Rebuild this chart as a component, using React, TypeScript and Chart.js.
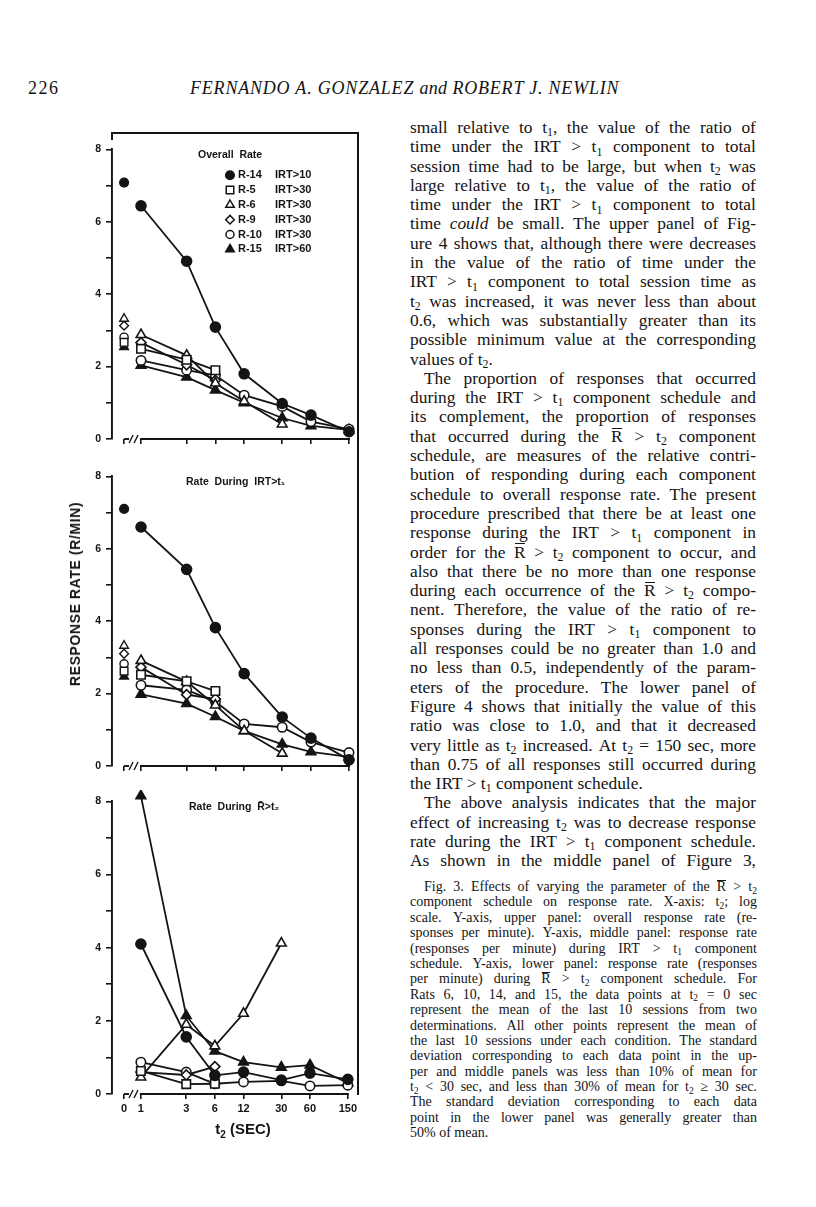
import React, { useEffect, useRef } from "react";
import { Chart, registerables } from "chart.js";

Chart.register(...registerables);

// ---------------- data ----------------
const T_VALUES = [1, 3, 6, 12, 30, 60, 150];
const X_TICK_LABELS = ["0", "1", "3", "6", "12", "30", "60", "150"];
const X_ZERO_POS = 0.665; // where t2 = 0 sits on the broken log axis
const X_MIN = 0.497;
const X_MAX = 150;
const Y_TICKS = [0, 1, 2, 3, 4, 5, 6, 7, 8];

const RATS = ["R-14", "R-5", "R-6", "R-9", "R-10", "R-15"];
const RAT_IRT = ["IRT>10", "IRT>30", "IRT>30", "IRT>30", "IRT>30", "IRT>60"];

// upper panel: overall rate (values for successive t2 = 1,3,6,12,30,60,150)
const OVERALL_R14 = [6.44, 4.91, 3.09, 1.8, 0.98, 0.66, 0.2];
const OVERALL_R5 = [2.49, 2.19, 1.9];
const OVERALL_R6 = [2.88, 2.31, 1.54, 1.04, 0.41];
const OVERALL_R9 = [2.66, 2.05, 1.62];
const OVERALL_R10 = [2.17, 1.9, 1.76, 1.21, 0.9, 0.48, 0.27];
const OVERALL_R15 = [2.03, 1.71, 1.35, 1.0, 0.58, 0.36, 0.25];
const OVERALL_T0 = [7.08, 2.67, 3.32, 3.13, 2.81, 2.54];

// middle panel: rate during IRT > t1
const IRT_R14 = [6.6, 5.43, 3.82, 2.55, 1.35, 0.77, 0.17];
const IRT_R5 = [2.52, 2.34, 2.07];
const IRT_R6 = [2.91, 2.33, 1.68, 0.97, 0.35];
const IRT_R9 = [2.73, 1.97, 1.85];
const IRT_R10 = [2.23, 2.1, 1.78, 1.16, 1.07, 0.66, 0.37];
const IRT_R15 = [1.98, 1.72, 1.36, 0.97, 0.6, 0.39, 0.25];
const IRT_T0 = [7.1, 2.62, 3.32, 3.1, 2.82, 2.47];

// lower panel: rate during R-bar > t2
const RBAR_R14 = [4.1, 1.56, 0.51, 0.6, 0.38, 0.57, 0.4];
const RBAR_R5 = [0.63, 0.27, 0.28];
const RBAR_R6 = [0.46, 1.9, 1.31, 2.2, 4.12];
const RBAR_R9 = [0.6, 0.52, 0.75];
const RBAR_R10 = [0.87, 0.6, 0.28, 0.33, 0.36, 0.22, 0.24];
const RBAR_R15 = [8.15, 2.14, 1.17, 0.87, 0.73, 0.79, 0.3];

// ---------------- styles ----------------
const INK = "#141414";
const SANS = '"Liberation Sans", Arial, sans-serif';
const SERIF = '"Liberation Serif", "Times New Roman", serif';

type Mark = "circle" | "rect" | "triangle" | "rectRot";
const RAT_MARK: Mark[] = ["circle", "rect", "triangle", "rectRot", "circle", "triangle"];
const RAT_FILLED = [true, false, false, false, false, true];
const RAT_RADIUS = [5, 6, 5.6, 5, 4.7, 5.6];

function drawMarker(ctx: CanvasRenderingContext2D, m: Mark, x: number, y: number, r: number, filled: boolean) {
  ctx.save();
  ctx.beginPath();
  if (m === "circle") ctx.arc(x, y, r, 0, Math.PI * 2);
  else if (m === "rect") {
    const s = r * Math.SQRT1_2;
    ctx.rect(x - s, y - s, 2 * s, 2 * s);
  } else if (m === "triangle") {
    ctx.moveTo(x, y - r);
    ctx.lineTo(x + r * 0.866, y + r * 0.5);
    ctx.lineTo(x - r * 0.866, y + r * 0.5);
    ctx.closePath();
  } else {
    ctx.moveTo(x, y - r);
    ctx.lineTo(x + r, y);
    ctx.lineTo(x, y + r);
    ctx.lineTo(x - r, y);
    ctx.closePath();
  }
  ctx.fillStyle = filled ? INK : "#fff";
  ctx.fill();
  ctx.lineWidth = 1.5;
  ctx.strokeStyle = INK;
  ctx.stroke();
  ctx.restore();
}

type PanelProps = {
  top: number;
  plotHeight: number;
  series: number[][];
  base: number[] | null;
  title: string;
  titleX: number;
  legend: boolean;
  xLabels: boolean;
};

function Panel({ top, plotHeight, series, base, title, titleX, legend, xLabels }: PanelProps) {
  const ref = useRef<HTMLCanvasElement>(null);
  const xAxisH = xLabels ? 30 : 12;
  const padTop = 10;
  const height = padTop + plotHeight + xAxisH;

  useEffect(() => {
    if (!ref.current) return;
    const datasets: any[] = [];
    series.forEach((vals, i) => {
      datasets.push({
        label: RATS[i],
        data: vals.map((v, j) => ({ x: T_VALUES[j], y: v })),
        showLine: true,
        borderColor: INK,
        borderWidth: 1.8,
        pointStyle: RAT_MARK[i],
        pointRadius: RAT_RADIUS[i],
        pointBackgroundColor: RAT_FILLED[i] ? INK : "#fff",
        pointBorderColor: INK,
        pointBorderWidth: 1.6,
        clip: false,
        tension: 0,
      });
    });
    if (base) {
      base.forEach((v, i) => {
        datasets.push({
          label: RATS[i] + " t2=0",
          data: [{ x: X_ZERO_POS, y: v }],
          showLine: false,
          pointStyle: RAT_MARK[i],
          pointRadius: RAT_RADIUS[i] - 0.6,
          pointBackgroundColor: RAT_FILLED[i] ? INK : "#fff",
          pointBorderColor: INK,
          pointBorderWidth: 1.4,
          clip: false,
        });
      });
    }

    const decor = {
      id: "decor",
      beforeDatasetsDraw(chart: any) {
        const { ctx, chartArea: a, scales } = chart;
        const x = scales.x;
        const y0 = a.bottom;
        const p0 = x.getPixelForValue(X_ZERO_POS);
        const p1 = x.getPixelForValue(1);
        const pe = x.getPixelForValue(X_MAX);
        ctx.save();
        ctx.strokeStyle = INK;
        ctx.lineWidth = 1.9;
        ctx.beginPath();
        ctx.moveTo(p1 - 1, y0);
        ctx.lineTo(pe + 1, y0);
        ctx.stroke();
        ctx.beginPath();
        ctx.moveTo(p0, y0);
        ctx.lineTo(p0 + 5, y0);
        ctx.stroke();
        ctx.lineWidth = 1.4;
        for (const sx of [p0 + 5, p0 + 10]) {
          ctx.beginPath();
          ctx.moveTo(sx, y0 + 4);
          ctx.lineTo(sx + 4, y0 - 4);
          ctx.stroke();
        }
        ctx.restore();
      },
      afterDraw(chart: any) {
        const { ctx, chartArea: a } = chart;
        ctx.save();
        ctx.fillStyle = INK;
        ctx.textBaseline = "middle";
        ctx.textAlign = "left";
        ctx.font = `bold 10.5px ${SANS}`;
        ctx.fillText(title, titleX - 60, a.top + 6);
        if (legend) {
          ctx.font = `bold 11px ${SANS}`;
          for (let i = 0; i < RATS.length; i++) {
            const ly = a.top + 26 + i * 14.8;
            drawMarker(ctx, RAT_MARK[i], a.left + 118, ly, RAT_RADIUS[i] - 0.7, RAT_FILLED[i]);
            ctx.fillText(RATS[i], a.left + 126, ly);
            ctx.fillText(RAT_IRT[i], a.left + 163, ly);
          }
        }
        ctx.restore();
      },
    };

    const chart = new Chart(ref.current, {
      type: "line",
      data: { datasets },
      options: {
        animation: false,
        responsive: false,
        devicePixelRatio: 1,
        layout: { padding: { top: padTop, right: 11, left: 0, bottom: 0 } },
        plugins: { legend: { display: false }, tooltip: { enabled: false } },
        scales: {
          x: {
            type: "logarithmic",
            min: X_MIN,
            max: X_MAX,
            afterBuildTicks: (s: any) => {
              s.ticks = [X_ZERO_POS, ...T_VALUES].map((v) => ({ value: v }));
            },
            afterFit: (s: any) => {
              s.height = xAxisH;
            },
            border: { display: false },
            grid: { drawOnChartArea: false, drawTicks: true, tickLength: 5, color: INK, lineWidth: 1.6 },
            ticks: {
              display: xLabels,
              autoSkip: false,
              maxRotation: 0,
              minRotation: 0,
              padding: 3,
              color: INK,
              font: { family: SANS, size: 11, weight: "bold" },
              callback: (_v: any, i: number) => X_TICK_LABELS[i],
            },
          },
          y: {
            min: 0,
            max: 8,
            afterBuildTicks: (s: any) => {
              s.ticks = Y_TICKS.map((v) => ({ value: v }));
            },
            afterFit: (s: any) => {
              s.width = 52;
            },
            border: { display: true, color: INK, width: 1.9 },
            grid: { drawOnChartArea: false, drawTicks: true, tickLength: 6, color: INK, lineWidth: 1.6 },
            ticks: {
              padding: 5,
              color: INK,
              font: { family: SANS, size: 10.5, weight: "bold" },
              callback: (v: any) => (Number(v) % 2 === 0 ? String(v) : ""),
            },
          },
        },
      } as any,
      plugins: [decor],
    });
    return () => chart.destroy();
  }, []);

  return (
    <canvas
      ref={ref}
      width={300}
      height={height}
      style={{ position: "absolute", left: 60, top: top - padTop, width: 300, height }}
    />
  );
}

// ---------------- text ----------------
// markup: t_1 subscript, R^ = R with bar, *word* italic; [indent, justified]
const BODY: [string, boolean, boolean][] = [
  ["small relative to t_1, the value of the ratio of", false, true],
  ["time under the IRT > t_1 component to total", false, true],
  ["session time had to be large, but when t_2 was", false, true],
  ["large relative to t_1, the value of the ratio of", false, true],
  ["time under the IRT > t_1 component to total", false, true],
  ["time *could* be small. The upper panel of Fig-", false, true],
  ["ure 4 shows that, although there were decreases", false, true],
  ["in the value of the ratio of time under the", false, true],
  ["IRT > t_1 component to total session time as", false, true],
  ["t_2 was increased, it was never less than about", false, true],
  ["0.6, which was substantially greater than its", false, true],
  ["possible minimum value at the corresponding", false, true],
  ["values of t_2.", false, false],
  ["The proportion of responses that occurred", true, true],
  ["during the IRT > t_1 component schedule and", false, true],
  ["its complement, the proportion of responses", false, true],
  ["that occurred during the R^ > t_2 component", false, true],
  ["schedule, are measures of the relative contri-", false, true],
  ["bution of responding during each component", false, true],
  ["schedule to overall response rate. The present", false, true],
  ["procedure prescribed that there be at least one", false, true],
  ["response during the IRT > t_1 component in", false, true],
  ["order for the R^ > t_2 component to occur, and", false, true],
  ["also that there be no more than one response", false, true],
  ["during each occurrence of the R^ > t_2 compo-", false, true],
  ["nent. Therefore, the value of the ratio of re-", false, true],
  ["sponses during the IRT > t_1 component to", false, true],
  ["all responses could be no greater than 1.0 and", false, true],
  ["no less than 0.5, independently of the param-", false, true],
  ["eters of the procedure. The lower panel of", false, true],
  ["Figure 4 shows that initially the value of this", false, true],
  ["ratio was close to 1.0, and that it decreased", false, true],
  ["very little as t_2 increased. At t_2 = 150 sec, more", false, true],
  ["than 0.75 of all responses still occurred during", false, true],
  ["the IRT > t_1 component schedule.", false, false],
  ["The above analysis indicates that the major", true, true],
  ["effect of increasing t_2 was to decrease response", false, true],
  ["rate during the IRT > t_1 component schedule.", false, true],
  ["As shown in the middle panel of Figure 3,", false, true],
];

const CAPTION: [string, boolean, boolean][] = [
  ["Fig. 3. Effects of varying the parameter of the R^ > t_2", true, true],
  ["component schedule on response rate. X-axis: t_2; log", false, true],
  ["scale. Y-axis, upper panel: overall response rate (re-", false, true],
  ["sponses per minute). Y-axis, middle panel: response rate", false, true],
  ["(responses per minute) during IRT > t_1 component", false, true],
  ["schedule. Y-axis, lower panel: response rate (responses", false, true],
  ["per minute) during R^ > t_2 component schedule. For", false, true],
  ["Rats 6, 10, 14, and 15, the data points at t_2 = 0 sec", false, true],
  ["represent the mean of the last 10 sessions from two", false, true],
  ["determinations. All other points represent the mean of", false, true],
  ["the last 10 sessions under each condition. The standard", false, true],
  ["deviation corresponding to each data point in the up-", false, true],
  ["per and middle panels was less than 10% of mean for", false, true],
  ["t_2 < 30 sec, and less than 30% of mean for t_2 ≥ 30 sec.", false, true],
  ["The standard deviation corresponding to each data", false, true],
  ["point in the lower panel was generally greater than", false, true],
  ["50% of mean.", false, false],
];

function renderWord(w: string, k: number) {
  const parts = w.split(/(\*[^*]+\*|R\^|_[12])/).filter((p) => p !== "");
  return (
    <span key={k}>
      {parts.map((p, i) => {
        if (p.startsWith("*") && p.endsWith("*") && p.length > 2) return <i key={i}>{p.slice(1, -1)}</i>;
        if (p === "R^")
          return (
            <span key={i} style={{ position: "relative", display: "inline-block" }}>
              R
              <span
                style={{
                  position: "absolute",
                  left: "0.04em",
                  right: "0.04em",
                  top: "0.05em",
                  height: 0,
                  borderTop: `1px solid ${INK}`,
                }}
              />
            </span>
          );
        if (/^_[12]$/.test(p))
          return (
            <span key={i} style={{ fontSize: "0.68em", position: "relative", top: "0.28em" }}>
              {p.slice(1)}
            </span>
          );
        return <React.Fragment key={i}>{p}</React.Fragment>;
      })}
    </span>
  );
}

function TextBlock({ lines, left, top, width, size, lh }: { lines: [string, boolean, boolean][]; left: number; top: number; width: number; size: number; lh: number }) {
  return (
    <div style={{ position: "absolute", left, top, width, fontFamily: SERIF, fontSize: size, lineHeight: `${lh}px`, color: INK }}>
      {lines.map(([t, indent, just], i) => {
        const words = t.split(" ");
        return just ? (
          <div key={i} style={{ display: "flex", justifyContent: "space-between", height: lh, paddingLeft: indent ? 14 : 0, whiteSpace: "nowrap" }}>
            {words.map((w, j) => renderWord(w, j))}
          </div>
        ) : (
          <div key={i} style={{ height: lh, paddingLeft: indent ? 14 : 0, whiteSpace: "nowrap" }}>
            {words.map((w, j) => (
              <React.Fragment key={j}>
                {j > 0 ? " " : ""}
                {renderWord(w, j)}
              </React.Fragment>
            ))}
          </div>
        );
      })}
    </div>
  );
}

export default function App() {
  return (
    <div style={{ position: "absolute", left: 0, top: 0, width: 816, height: 1207, background: "#fff", overflow: "hidden" }}>
      {/* running head */}
      <div style={{ position: "absolute", left: 28, top: 77, fontFamily: SERIF, fontSize: 18, lineHeight: "22px", color: INK, letterSpacing: 1.5 }}>226</div>
      <div style={{ position: "absolute", left: 190, top: 77, fontFamily: SERIF, fontSize: 18, lineHeight: "22px", color: INK, fontStyle: "italic", letterSpacing: 0.8, whiteSpace: "nowrap" }}>
        FERNANDO A. GONZALEZ <span style={{ letterSpacing: 0.2 }}>and</span> ROBERT J. NEWLIN
      </div>

      {/* figure frame */}
      <div style={{ position: "absolute", left: 111, top: 132, width: 247, height: 0, borderTop: `2px solid ${INK}` }} />
      <div style={{ position: "absolute", left: 111, top: 132, width: 0, height: 8, borderLeft: `2px solid ${INK}` }} />
      <div style={{ position: "absolute", left: 357, top: 132, width: 0, height: 963, borderLeft: `2px solid ${INK}` }} />

      <Panel
        top={148}
        plotHeight={291}
        series={[OVERALL_R14, OVERALL_R5, OVERALL_R6, OVERALL_R9, OVERALL_R10, OVERALL_R15]}
        base={OVERALL_T0}
        title="Overall  Rate"
        titleX={198}
        legend={true}
        xLabels={false}
      />
      <Panel
        top={475}
        plotHeight={291}
        series={[IRT_R14, IRT_R5, IRT_R6, IRT_R9, IRT_R10, IRT_R15]}
        base={IRT_T0}
        title="Rate  During  IRT>t₁"
        titleX={186}
        legend={false}
        xLabels={false}
      />
      <Panel
        top={800}
        plotHeight={294}
        series={[RBAR_R14, RBAR_R5, RBAR_R6, RBAR_R9, RBAR_R10, RBAR_R15]}
        base={null}
        title="Rate  During  R̄>t₂"
        titleX={189}
        legend={false}
        xLabels={true}
      />

      {/* axis titles */}
      <div
        style={{
          position: "absolute",
          left: 75,
          top: 594,
          transform: "translate(-50%, -50%) rotate(-90deg)",
          fontFamily: SANS,
          fontWeight: "bold",
          fontSize: 14,
          letterSpacing: 0.6,
          whiteSpace: "nowrap",
          color: INK,
        }}
      >
        RESPONSE RATE (R/MIN)
      </div>
      <div style={{ position: "absolute", left: 243, top: 1128, transform: "translate(-50%, -50%)", fontFamily: SANS, fontWeight: "bold", fontSize: 15, whiteSpace: "nowrap", color: INK }}>
        t<span style={{ fontSize: 10, position: "relative", top: 4 }}>2</span> (SEC)
      </div>

      <TextBlock lines={BODY} left={410} top={118} width={346} size={17.4} lh={19.3} />
      <TextBlock lines={CAPTION} left={410} top={879} width={347} size={14} lh={15.4} />
    </div>
  );
}
